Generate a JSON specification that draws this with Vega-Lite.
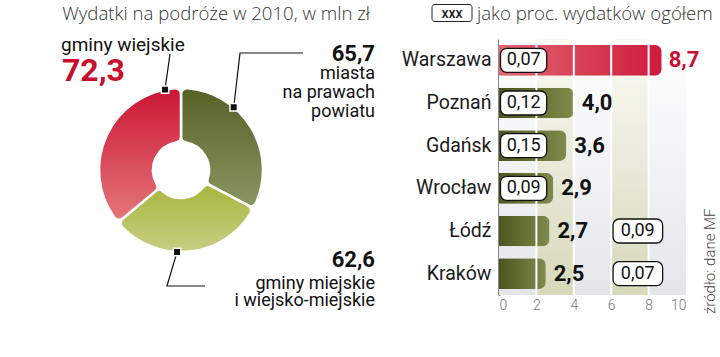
{
  "$schema": "https://vega.github.io/schema/vega-lite/v6.json",
  "background": "white",
  "padding": {"left": 0, "top": 3, "right": 0, "bottom": 0},
  "bounds": "flush",
  "spacing": 137,
  "config": {
    "view": {"stroke": null},
    "locale": {"number": {"decimal": ",", "thousands": " ", "grouping": [3], "currency": ["", " zł"]}},
    "axisX": {"tickCount": 5, "grid": false, "domain": false, "ticks": false, "labelFont": "Roboto", "labelFontWeight": 300, "labelFontSize": 14, "labelColor": "#777", "labelPadding": 3, "labelOverlap": false},
    "axisY": {"ticks": false, "grid": false, "domainColor": "#111", "domainWidth": 2, "labelFont": "Roboto", "labelFontSize": 19.5, "labelColor": "#1a1a1a", "labelPadding": 8, "zindex": 1}
  },
  "datasets": {
    "pie": [
      {"cat": "miasta na prawach powiatu", "value": 65.7, "ord": 1},
      {"cat": "gminy miejskie i wiejsko-miejskie", "value": 62.6, "ord": 2},
      {"cat": "gminy wiejskie", "value": 72.3, "ord": 3}
    ],
    "leaders": [
      {"id": "a", "i": 0, "x": 45.58, "y": 80.69},
      {"id": "a", "i": 1, "x": 46.96, "y": 94.27},
      {"id": "b", "i": 0, "x": 64.56, "y": 73.97},
      {"id": "b", "i": 1, "x": 66.3, "y": 94.66},
      {"id": "b", "i": 2, "x": 83.7, "y": 94.66},
      {"id": "c", "i": 0, "x": 48.9, "y": 18.7},
      {"id": "c", "i": 1, "x": 46.13, "y": 5.73},
      {"id": "c", "i": 2, "x": 56.63, "y": 5.73}
    ],
    "notes": [
      {"k": "hdrR", "x": 102.21, "y": 107.14, "t": "Wydatki na podróże w 2010, w mln zł"},
      {"k": "hdrL", "x": 131.77, "y": 107.44, "t": "jako proc. wydatków ogółem"},
      {"k": "xxx", "x": 124.86, "y": 107.9, "t": "xxx"},
      {"k": "labL", "x": 16.85, "y": 95.42, "t": "gminy wiejskie"},
      {"k": "big", "x": 17.13, "y": 83.97, "t": "72,3"},
      {"k": "numR", "x": 103.59, "y": 91.6, "t": "65,7"},
      {"k": "labR", "x": 103.59, "y": 84.73, "t": "miasta"},
      {"k": "labR", "x": 103.59, "y": 77.48, "t": "na prawach"},
      {"k": "labR", "x": 103.59, "y": 70.23, "t": "powiatu"},
      {"k": "numR", "x": 103.59, "y": 12.98, "t": "62,6"},
      {"k": "labR", "x": 103.59, "y": 4.58, "t": "gminy miejskie"},
      {"k": "labR", "x": 103.59, "y": -1.91, "t": "i wiejsko-miejskie"},
      {"k": "src", "x": 196.13, "y": -4.96, "t": "źródło: dane MF"}
    ],
    "keybox": [{"x": 119.34, "x2": 130.39, "y": 113.17, "y2": 106.68}],
    "cities": [
      {"city": "Warszawa", "value": 8.7, "pct": 0.07},
      {"city": "Poznań", "value": 4.0, "pct": 0.12},
      {"city": "Gdańsk", "value": 3.6, "pct": 0.15},
      {"city": "Wrocław", "value": 2.9, "pct": 0.09},
      {"city": "Łódź", "value": 2.7, "pct": 0.09},
      {"city": "Kraków", "value": 2.5, "pct": 0.07}
    ],
    "bands": [
      {"b0": 0, "b1": 2, "k": "g"},
      {"b0": 2, "b1": 4, "k": "b"},
      {"b0": 4, "b1": 6, "k": "g"},
      {"b0": 6, "b1": 8, "k": "b"},
      {"b0": 8, "b1": 10, "k": "g"}
    ],
    "grid": [{"g": 2}, {"g": 4}, {"g": 6}, {"g": 8}]
  },
  "hconcat": [
    {
      "width": 362,
      "height": 262,
      "layer": [
        {
          "data": {"name": "pie"},
          "transform": [
            {"stack": "value", "groupby": [], "sort": [{"field": "ord"}], "as": ["v0", "v1"]},
            {"filter": "datum.ord == 1"}
          ],
          "mark": {"type": "arc", "outerRadius": 82, "innerRadius": 28, "cornerRadius": 6, "stroke": "white", "strokeWidth": 2.5,
            "fill": {"gradient": "linear", "x1": 0, "y1": 0, "x2": 0, "y2": 1, "stops": [{"offset": 0, "color": "#566127"}, {"offset": 1, "color": "#8b9563"}]}},
          "encoding": {
            "theta": {"field": "v1", "type": "quantitative", "stack": null, "scale": {"zero": true, "nice": false}},
            "theta2": {"field": "v0"}
          }
        },
        {
          "data": {"name": "pie"},
          "transform": [
            {"stack": "value", "groupby": [], "sort": [{"field": "ord"}], "as": ["v0", "v1"]},
            {"filter": "datum.ord == 2"}
          ],
          "mark": {"type": "arc", "outerRadius": 82, "innerRadius": 28, "cornerRadius": 6, "stroke": "white", "strokeWidth": 2.5,
            "fill": {"gradient": "linear", "x1": 0, "y1": 0, "x2": 0, "y2": 1, "stops": [{"offset": 0, "color": "#a9b63f"}, {"offset": 1, "color": "#c7ce82"}]}},
          "encoding": {
            "theta": {"field": "v1", "type": "quantitative", "stack": null},
            "theta2": {"field": "v0"}
          }
        },
        {
          "data": {"name": "pie"},
          "transform": [
            {"stack": "value", "groupby": [], "sort": [{"field": "ord"}], "as": ["v0", "v1"]},
            {"filter": "datum.ord == 3"}
          ],
          "mark": {"type": "arc", "outerRadius": 82, "innerRadius": 28, "cornerRadius": 6, "stroke": "white", "strokeWidth": 2.5,
            "fill": {"gradient": "linear", "x1": 0, "y1": 0, "x2": 0, "y2": 1, "stops": [{"offset": 0, "color": "#cc1535"}, {"offset": 1, "color": "#e4777b"}]}},
          "encoding": {
            "theta": {"field": "v1", "type": "quantitative", "stack": null},
            "theta2": {"field": "v0"}
          }
        },
        {
          "data": {"name": "leaders"},
          "mark": {"type": "line", "color": "#111", "strokeWidth": 1.2},
          "encoding": {
            "x": {"field": "x", "type": "quantitative", "scale": {"domain": [0, 100], "nice": false, "zero": false}, "axis": null},
            "y": {"field": "y", "type": "quantitative", "scale": {"domain": [0, 100], "nice": false, "zero": false}, "axis": null},
            "detail": {"field": "id"},
            "order": {"field": "i"}
          }
        },
        {
          "data": {"name": "leaders"},
          "transform": [{"filter": "datum.i == 0"}],
          "mark": {"type": "point", "shape": "square", "filled": true, "size": 55, "color": "#111", "stroke": "white", "strokeWidth": 1.5, "opacity": 1},
          "encoding": {
            "x": {"field": "x", "type": "quantitative", "axis": null},
            "y": {"field": "y", "type": "quantitative", "axis": null}
          }
        },
        {
          "data": {"name": "keybox"},
          "mark": {"type": "rect", "fill": "white", "stroke": "#222", "strokeWidth": 1, "cornerRadius": 3},
          "encoding": {
            "x": {"field": "x", "type": "quantitative", "axis": null},
            "x2": {"field": "x2"},
            "y": {"field": "y", "type": "quantitative", "axis": null},
            "y2": {"field": "y2"}
          }
        },
        {
          "data": {"name": "notes"},
          "transform": [{"filter": "datum.k == 'hdrR'"}],
          "mark": {"type": "text", "align": "right", "baseline": "alphabetic", "font": "Open Sans", "fontWeight": 300, "fontSize": 18.6, "color": "#333"},
          "encoding": {
            "x": {"field": "x", "type": "quantitative", "axis": null},
            "y": {"field": "y", "type": "quantitative", "axis": null},
            "text": {"field": "t"}
          }
        },
        {
          "data": {"name": "notes"},
          "transform": [{"filter": "datum.k == 'hdrL'"}],
          "mark": {"type": "text", "align": "left", "baseline": "alphabetic", "font": "Open Sans", "fontWeight": 300, "fontSize": 18.6, "color": "#333"},
          "encoding": {
            "x": {"field": "x", "type": "quantitative", "axis": null},
            "y": {"field": "y", "type": "quantitative", "axis": null},
            "text": {"field": "t"}
          }
        },
        {
          "data": {"name": "notes"},
          "transform": [{"filter": "datum.k == 'xxx'"}],
          "mark": {"type": "text", "align": "center", "baseline": "alphabetic", "font": "Roboto", "fontWeight": 500, "fontSize": 14, "color": "#222"},
          "encoding": {
            "x": {"field": "x", "type": "quantitative", "axis": null},
            "y": {"field": "y", "type": "quantitative", "axis": null},
            "text": {"field": "t"}
          }
        },
        {
          "data": {"name": "notes"},
          "transform": [{"filter": "datum.k == 'labL'"}],
          "mark": {"type": "text", "align": "left", "baseline": "alphabetic", "font": "Roboto", "fontSize": 19, "color": "#111"},
          "encoding": {
            "x": {"field": "x", "type": "quantitative", "axis": null},
            "y": {"field": "y", "type": "quantitative", "axis": null},
            "text": {"field": "t"}
          }
        },
        {
          "data": {"name": "notes"},
          "transform": [{"filter": "datum.k == 'labR'"}],
          "mark": {"type": "text", "align": "right", "baseline": "alphabetic", "font": "Roboto", "fontSize": 18, "color": "#111"},
          "encoding": {
            "x": {"field": "x", "type": "quantitative", "axis": null},
            "y": {"field": "y", "type": "quantitative", "axis": null},
            "text": {"field": "t"}
          }
        },
        {
          "data": {"name": "notes"},
          "transform": [{"filter": "datum.k == 'big'"}],
          "mark": {"type": "text", "align": "left", "baseline": "alphabetic", "font": "Roboto", "fontWeight": "bold", "fontSize": 32, "color": "#c8102e"},
          "encoding": {
            "x": {"field": "x", "type": "quantitative", "axis": null},
            "y": {"field": "y", "type": "quantitative", "axis": null},
            "text": {"field": "t"}
          }
        },
        {
          "data": {"name": "notes"},
          "transform": [{"filter": "datum.k == 'numR'"}],
          "mark": {"type": "text", "align": "right", "baseline": "alphabetic", "font": "Roboto", "fontWeight": "bold", "fontSize": 22, "color": "#111"},
          "encoding": {
            "x": {"field": "x", "type": "quantitative", "axis": null},
            "y": {"field": "y", "type": "quantitative", "axis": null},
            "text": {"field": "t"}
          }
        },
        {
          "data": {"name": "notes"},
          "transform": [{"filter": "datum.k == 'src'"}],
          "mark": {"type": "text", "align": "left", "baseline": "middle", "angle": 270, "font": "Roboto", "fontWeight": 300, "fontSize": 15, "color": "#444"},
          "encoding": {
            "x": {"field": "x", "type": "quantitative", "axis": null},
            "y": {"field": "y", "type": "quantitative", "axis": null},
            "text": {"field": "t"}
          }
        }
      ]
    },
    {
      "width": 187,
      "height": 256,
      "layer": [
        {
          "data": {"name": "bands"},
          "transform": [{"filter": "datum.k == 'g'"}],
          "mark": {"type": "rect", "fill": {"gradient": "linear", "x1": 0, "y1": 0, "x2": 0, "y2": 1, "stops": [{"offset": 0, "color": "#ffffff"}, {"offset": 1, "color": "#e3e6e9"}]}},
          "encoding": {
            "x": {"field": "b0", "type": "quantitative", "title": null, "scale": {"domain": [0, 10], "nice": false}},
            "x2": {"field": "b1"}
          }
        },
        {
          "data": {"name": "bands"},
          "transform": [{"filter": "datum.k == 'b'"}],
          "mark": {"type": "rect", "fill": {"gradient": "linear", "x1": 0, "y1": 0, "x2": 0, "y2": 1, "stops": [{"offset": 0, "color": "#fbfbf5"}, {"offset": 1, "color": "#d6d8bb"}]}},
          "encoding": {
            "x": {"field": "b0", "type": "quantitative", "title": null},
            "x2": {"field": "b1"}
          }
        },
        {
          "data": {"name": "cities"},
          "transform": [{"filter": "datum.city != 'Warszawa'"}],
          "mark": {"type": "bar", "cornerRadiusEnd": 7, "fill": {"gradient": "linear", "x1": 0, "y1": 0, "x2": 1, "y2": 0, "stops": [{"offset": 0, "color": "#4b561f"}, {"offset": 1, "color": "#7f8a4c"}]}},
          "encoding": {
            "x": {"field": "value", "type": "quantitative", "title": null},
            "y": {"field": "city", "type": "nominal", "title": null, "sort": ["Warszawa", "Poznań", "Gdańsk", "Wrocław", "Łódź", "Kraków"], "scale": {"paddingInner": 0.28, "paddingOuter": 0.14}}
          }
        },
        {
          "data": {"name": "cities"},
          "transform": [{"filter": "datum.city == 'Warszawa'"}],
          "mark": {"type": "bar", "cornerRadiusEnd": 7, "fill": {"gradient": "linear", "x1": 0, "y1": 0, "x2": 1, "y2": 0, "stops": [{"offset": 0, "color": "#e26673"}, {"offset": 1, "color": "#cd1b3b"}]}},
          "encoding": {
            "x": {"field": "value", "type": "quantitative", "title": null},
            "y": {"field": "city", "type": "nominal", "title": null, "sort": ["Warszawa", "Poznań", "Gdańsk", "Wrocław", "Łódź", "Kraków"]}
          }
        },
        {
          "data": {"name": "grid"},
          "mark": {"type": "rule", "color": "white", "strokeWidth": 2},
          "encoding": {
            "x": {"field": "g", "type": "quantitative", "title": null}
          }
        },
        {
          "data": {"name": "cities"},
          "transform": [{"filter": "datum.city != 'Łódź' && datum.city != 'Kraków'"}],
          "mark": {"type": "bar", "size": 24, "cornerRadius": 6, "fill": "white", "stroke": "#111", "strokeWidth": 1.3},
          "encoding": {
            "x": {"datum": 0.08, "type": "quantitative", "title": null},
            "x2": {"datum": 2.55},
            "y": {"field": "city", "type": "nominal", "title": null, "sort": ["Warszawa", "Poznań", "Gdańsk", "Wrocław", "Łódź", "Kraków"]}
          }
        },
        {
          "data": {"name": "cities"},
          "transform": [{"filter": "datum.city == 'Łódź' || datum.city == 'Kraków'"}],
          "mark": {"type": "bar", "size": 24, "cornerRadius": 6, "fill": "white", "stroke": "#111", "strokeWidth": 1.3},
          "encoding": {
            "x": {"datum": 6.1, "type": "quantitative", "title": null},
            "x2": {"datum": 8.75},
            "y": {"field": "city", "type": "nominal", "title": null, "sort": ["Warszawa", "Poznań", "Gdańsk", "Wrocław", "Łódź", "Kraków"]}
          }
        },
        {
          "data": {"name": "cities"},
          "transform": [{"filter": "datum.city != 'Łódź' && datum.city != 'Kraków'"}],
          "mark": {"type": "text", "align": "center", "baseline": "middle", "font": "Roboto", "fontSize": 18, "color": "#111"},
          "encoding": {
            "x": {"datum": 1.32, "type": "quantitative", "title": null},
            "y": {"field": "city", "type": "nominal", "title": null, "sort": ["Warszawa", "Poznań", "Gdańsk", "Wrocław", "Łódź", "Kraków"]},
            "text": {"field": "pct", "type": "quantitative", "format": ".2f"}
          }
        },
        {
          "data": {"name": "cities"},
          "transform": [{"filter": "datum.city == 'Łódź' || datum.city == 'Kraków'"}],
          "mark": {"type": "text", "align": "center", "baseline": "middle", "font": "Roboto", "fontSize": 18, "color": "#111"},
          "encoding": {
            "x": {"datum": 7.42, "type": "quantitative", "title": null},
            "y": {"field": "city", "type": "nominal", "title": null, "sort": ["Warszawa", "Poznań", "Gdańsk", "Wrocław", "Łódź", "Kraków"]},
            "text": {"field": "pct", "type": "quantitative", "format": ".2f"}
          }
        },
        {
          "data": {"name": "cities"},
          "transform": [{"filter": "datum.city != 'Warszawa'"}],
          "mark": {"type": "text", "align": "left", "baseline": "middle", "dx": 8, "font": "Roboto", "fontWeight": "bold", "fontSize": 22, "color": "#111"},
          "encoding": {
            "x": {"field": "value", "type": "quantitative", "title": null},
            "y": {"field": "city", "type": "nominal", "title": null, "sort": ["Warszawa", "Poznań", "Gdańsk", "Wrocław", "Łódź", "Kraków"]},
            "text": {"field": "value", "type": "quantitative", "format": ".1f"}
          }
        },
        {
          "data": {"name": "cities"},
          "transform": [{"filter": "datum.city == 'Warszawa'"}],
          "mark": {"type": "text", "align": "left", "baseline": "middle", "dx": 7, "font": "Roboto", "fontWeight": "bold", "fontSize": 22, "color": "#c8102e"},
          "encoding": {
            "x": {"field": "value", "type": "quantitative", "title": null},
            "y": {"field": "city", "type": "nominal", "title": null, "sort": ["Warszawa", "Poznań", "Gdańsk", "Wrocław", "Łódź", "Kraków"]},
            "text": {"field": "value", "type": "quantitative", "format": ".1f"}
          }
        }
      ]
    }
  ]
}
